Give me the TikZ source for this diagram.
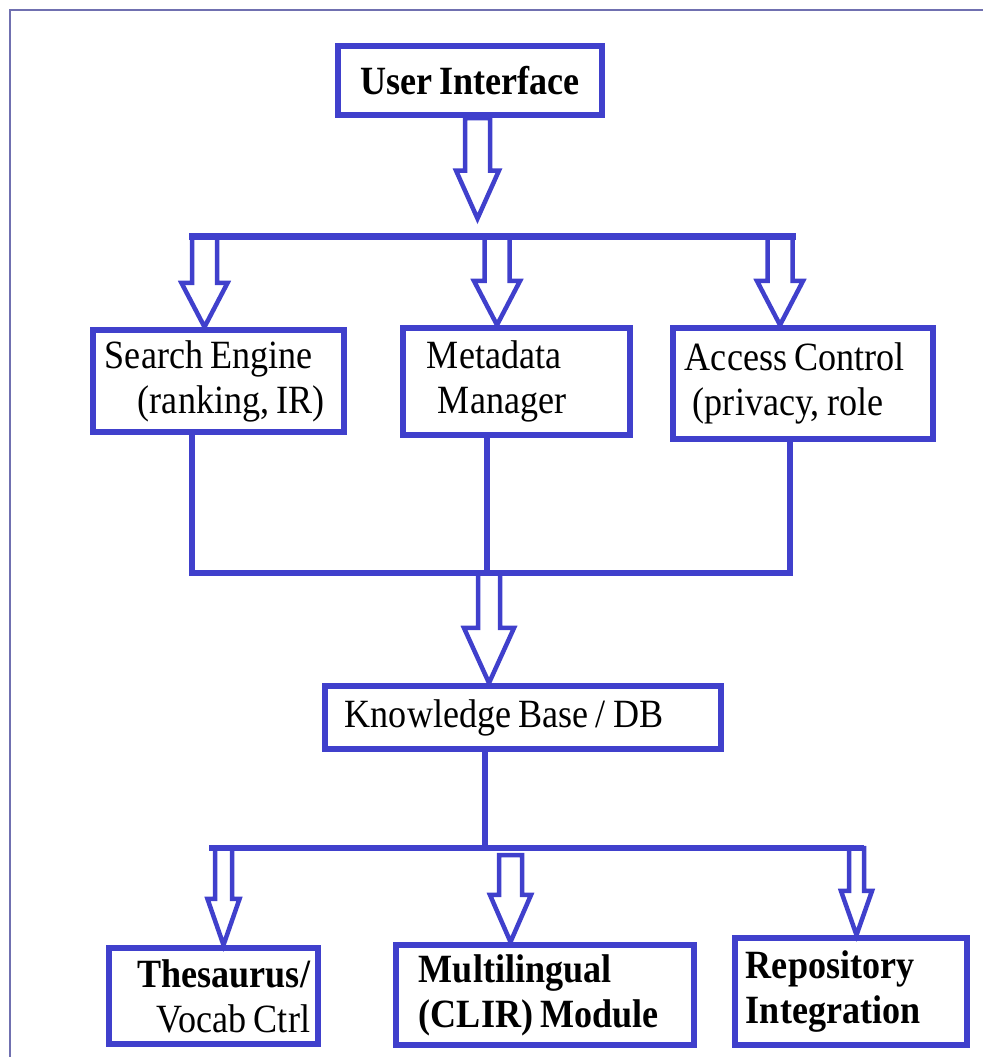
\documentclass[tikz,border=0pt]{standalone}
\usepackage{fontspec}
\setmainfont{Liberation Serif}[FakeStretch=0.9]
\usetikzlibrary{calc}

\definecolor{boxblue}{RGB}{64,64,204}
\definecolor{framegray}{RGB}{112,112,176}

% narrow interword spaces in the box labels
\newcommand{\narrowspaces}{\spaceskip 0.18em plus 0.02em\relax\xspaceskip 0.18em\relax}

% hollow block arrow: #1 top, #2 tip, #3 half shaft, #4 half head, #5 head length
\newcommand{\blockarrow}[5]{%
  \draw[blockline] ($(#1)+(-#3,0)$) -- ($(#2)+(-#3,-#5)$) -- ($(#2)+(-#4,-#5)$)
    -- (#2) -- ($(#2)+(#4,-#5)$) -- ($(#2)+(#3,-#5)$) -- ($(#1)+(#3,0)$) -- cycle;}

\begin{document}
\begin{tikzpicture}[x=0.01cm,y=-0.01cm,
  box/.style={draw=boxblue,line width=0.06cm,inner ysep=0pt,
    font=\fontsize{11.4}{12.8}\selectfont,execute at begin node=\narrowspaces},
  boldbox/.style={box,font=\fontsize{11.4}{12.8}\selectfont\bfseries},
  barline/.style={draw=boxblue,line width=0.065cm,line cap=rect},
  blockline/.style={draw=boxblue,line width=0.045cm,fill=white,line join=miter},
  frameline/.style={draw=framegray,line width=0.02cm}]
\useasboundingbox (0,0) rectangle (983,1057);
\draw[frameline] (10,1057) -- (10,10) -- (983,10);

% boxes
\node[boldbox,minimum width=2.64cm,minimum height=0.69cm] (ui) at (470,80.5) {User Interface};

\node[box,text width=2.27cm,inner xsep=0.12cm,minimum height=1.02cm,align=left] (search) at (218.5,381)
  {Search Engine\\\hspace*{0.33cm}(ranking, IR)};
\node[box,text width=1.79cm,inner xsep=0.24cm,minimum height=1.07cm,align=left] (meta) at (516.5,381.5)
  {Metadata\\\hspace*{0.11cm}Manager};
\node[box,text width=2.36cm,inner xsep=0.12cm,minimum height=1.11cm,align=left] (access) at (803,383.5)
  {Access Control\\\hspace*{0.08cm}(privacy, role};

\node[box,text width=3.56cm,inner xsep=0.2cm,minimum height=0.63cm,align=left] (kb) at (523,717.5)
  {Knowledge Base / DB};

\node[boldbox,text width=1.93cm,inner xsep=0.08cm,minimum height=0.96cm,align=right] (thes) at (213.5,996)
  {Thesaurus/\\\mdseries Vocab Ctrl};
\node[boldbox,text width=2.52cm,inner xsep=0.23cm,minimum height=1.0cm,align=left] (multi) at (545,995)
  {Multilingual\\(CLIR) Module};
\node[boldbox,text width=2.10cm,inner xsep=0.11cm,minimum height=1.07cm,align=left] (repo) at (851,991.5)
  {Repository\\Integration};

% user interface down to the first split
\coordinate (barL) at (192,236.5);
\coordinate (barR) at (793,236.5);
\coordinate (uiout) at ($(ui.south)+(7.5,0)$);
\coordinate (uitip) at ($(uiout |- barL)+(0,-18)$);
\blockarrow{uiout}{uitip}{12.5}{21.5}{48}

\foreach \x/\target in {204.5/search,497/meta,780/access}{
  \coordinate (top) at (\x,236.5);
  \coordinate (tip) at (top |- \target.north);
  \blockarrow{top}{tip}{12.5}{23}{44}
}
\draw[barline] (barL) -- (barR);

% the three modules join into the knowledge base
\coordinate (jL) at (192,573);
\coordinate (jM) at (487,573);
\coordinate (jR) at (790,573);
\coordinate (kbin) at (489,573);
\coordinate (kbtip) at (kbin |- kb.north);
\blockarrow{kbin}{kbtip}{11}{25}{55}
\draw[barline] (jL |- search.south) -- (jL) -- (jR) -- (jR |- access.south);
\draw[barline] (jM |- meta.south) -- (jM);

% knowledge base down to the lower modules
\coordinate (kbout) at (485,848);
\coordinate (lowL) at (212,848);
\coordinate (lowR) at (861,848);
\foreach \x/\y/\target/\sw/\hw/\hl in {223.5/848/thes/8.5/16/46,
    510.5/855/multi/11.5/20.5/47, 856.5/848/repo/7.5/15.5/44}{
  \coordinate (top) at (\x,\y);
  \coordinate (tip) at (top |- \target.north);
  \blockarrow{top}{tip}{\sw}{\hw}{\hl}
}
\draw[barline] (kbout |- kb.south) -- (kbout);
\draw[barline] (lowL) -- (lowR);
\end{tikzpicture}
\end{document}
